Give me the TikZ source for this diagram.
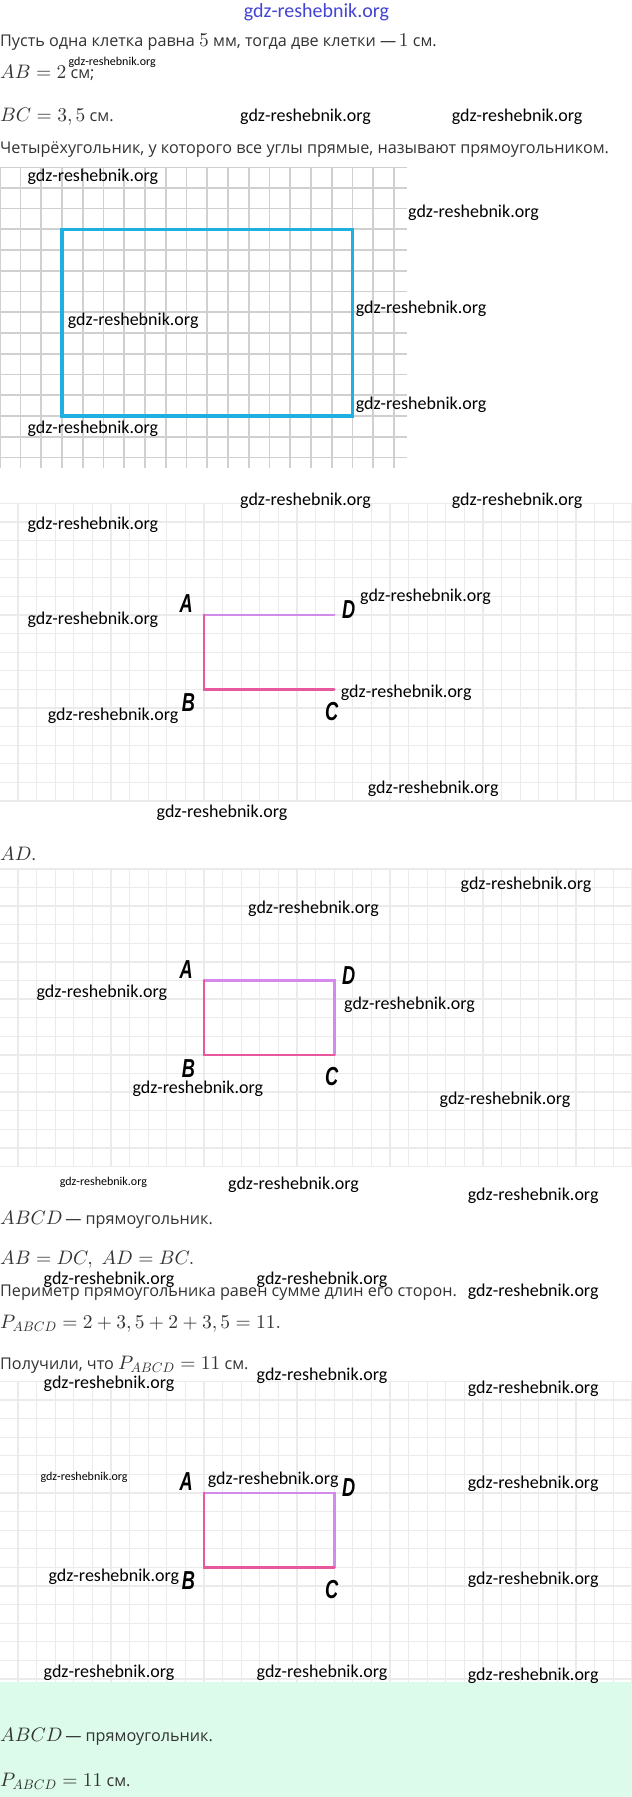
\documentclass[tikz,border=0pt]{standalone}
\usepackage{fontspec}
\usepackage{tikz}
\usetikzlibrary{positioning}
\DeclareFontShape{OML}{cmm}{m}{it}{<->cmmi10}{}
\DeclareFontShape{OT1}{cmr}{m}{n}{<->cmr10}{}
\DeclareFontShape{OMS}{cmsy}{m}{n}{<->cmsy10}{}
\newfontfamily\rufont[Scale=0.83]{Open Sans}
\newfontfamily\wmfont{Carlito}
\newfontfamily\ptfont[FakeStretch=0.7]{Liberation Sans}
\definecolor{txtgray}{HTML}{333333}
\definecolor{rectblue}{HTML}{1EB0E0}
\definecolor{sidepink}{HTML}{E8589E}
\definecolor{sideviolet}{HTML}{D48AEA}
\definecolor{gridgray}{HTML}{D0D0D0}
\definecolor{gridlight}{HTML}{EBEBEB}
\definecolor{mint}{HTML}{DCFBEA}
\definecolor{wmblue}{HTML}{4444D4}

\begin{document}
\begin{tikzpicture}[x=1pt, y=-1pt]
% Styles:
\tikzset{%
  line/.style     = {anchor=west, inner sep=0pt, text=txtgray, font=\fontsize{19.5}{22}\selectfont\rufont},
  wm/.style       = {anchor=west, inner sep=0pt, font=\fontsize{18}{20}\selectfont\wmfont},
  wmsmall/.style  = {anchor=west, inner sep=0pt, font=\fontsize{12}{14}\selectfont\wmfont},
  pt/.style       = {inner sep=0pt, font=\fontsize{26}{26}\selectfont\ptfont\bfseries\itshape},
  gridbig/.style  = {gridgray, line width=1.8pt},
  gridsmall/.style= {gridlight, line width=1.3pt},
  sideab/.style   = {sidepink, line width=2.6pt, line cap=round},
  sidead/.style   = {sideviolet, line width=2.6pt, line cap=round}
}
\fill[white] (0,0) rectangle (632,1797);
\useasboundingbox (0,0) rectangle (632,1797);
\fill[mint] (0,1682) rectangle (632,1797);

% Grid 1 with the blue rectangle
\begin{scope}
  \clip (0,167) rectangle (407,468);
  \foreach \k in {0,...,19} \draw[gridbig] ({-0.25+20.75*\k},167) -- ++(0,301);
  \foreach \k in {0,...,14} \draw[gridbig] (0,{167+20.75*\k}) -- ++(407,0);
\end{scope}
\coordinate (P) at (62,229.3);
\coordinate (Q) at (352.5,416);
\draw[rectblue, line width=3.2pt] (P) rectangle (Q);

% Grids 2, 3, 4
\foreach \top/\bot in {503.4/801, 868.9/1166.5, 1381.4/1682}{
  \foreach \k in {0,...,34} \draw[gridsmall] ({-0.6+18.6*\k},\top) -- ({-0.6+18.6*\k},\bot);
  \foreach \k in {0,...,16} \draw[gridsmall] (0,{\top+18.6*\k}) -- (632,{\top+18.6*\k});
}

% Grid 2: A, B, C, D
\coordinate (A2) at (204,615);
\coordinate (B2) at (204,689.4);
\coordinate (C2) at (334.2,689.4);
\coordinate (D2) at (334.2,615);
\draw[sidead] (A2) -- (D2);
\draw[sideab] (A2) -- (B2) -- (C2);
\node[pt, shift={(-17.7,-11)}] (lA2) at (A2) {A};
\node[pt, shift={(14.6,-5.2)}] (lD2) at (D2) {D};
\node[pt, shift={(-15.5,13.5)}] (lB2) at (B2) {B};
\node[pt, shift={(-2.5,22)}] (lC2) at (C2) {C};

% Grid 3 and grid 4: rectangles ABCD
\foreach \g/\ya in {3/980.5, 4/1493}{
  \coordinate (A\g) at (204,\ya);
  \coordinate (B\g) at (204,\ya+74.4);
  \coordinate (C\g) at (334.2,\ya+74.4);
  \coordinate (D\g) at (334.2,\ya);
  \draw[sidead] (A\g) -- (D\g) -- (C\g);
  \draw[sideab] (A\g) -- (B\g) -- (C\g);
  \node[pt, shift={(-17.7,-11)}] (lA\g) at (A\g) {A};
  \node[pt, shift={(14.6,-5.2)}] (lD\g) at (D\g) {D};
  \node[pt, shift={(-15.5,13.5)}] (lB\g) at (B\g) {B};
  \node[pt, shift={(-2.5,22)}] (lC\g) at (C\g) {C};
}

% Text lines
\node[line] (t1) at (0,41.7) {Пусть одна клетка равна $5$ мм, тогда две клетки —\,$1$ см.};
\node[line] (t2) at (0,72.7) {$AB = 2$ см;};
\node[line] (t3) at (0,117) {$BC = 3,5$ см.};
\node[line] (t4) at (0,150) {Четырёхугольник, у которого все углы прямые, называют прямоугольником.};
\node[line] (t5) at (0,854) {$AD$.};
\node[line] (t6) at (0,1219.3) {$ABCD$\,— прямоугольник.};
\node[line] (t7) at (0,1260) {$AB = DC,\; AD = BC.$};
\node[line] (t8) at (0,1292.7) {Периметр прямоугольника равен сумме длин его сторон.};
\node[line] (t9) at (0,1324) {$P_{ABCD} = 2+3,5+2+3,5 = 11.$};
\node[line] (t10) at (0,1365) {Получили, что $P_{ABCD} = 11$ см.};
\node[line] (t11) at (0,1736.7) {$ABCD$\,— прямоугольник.};
\node[line] (t12) at (0,1781.7) {$P_{ABCD} = 11$ см.};

% Watermarks
\node[font=\fontsize{20}{22}\selectfont\wmfont, text=wmblue] (wm0) at (316.5,12.7) {gdz-reshebnik.org};
\foreach \x/\y [count=\i] in {240/117, 451.6/117,
    27.4/176.7, 408/212.7, 355.6/308.3, 67.7/320.7, 355.6/404.3, 27.4/428.3,
    240/500.7, 451.6/500.7, 27.4/525, 27.4/620, 360/596.7, 340.7/692.3, 47.6/715.7, 367.7/788.3, 156.5/812.3,
    460.5/884.3, 248/909, 36.3/992.7, 344/1004.3, 132.3/1088.3, 439.5/1100, 228/1184.3, 467.7/1196,
    43.5/1280, 256.5/1280, 467.7/1291.7, 256.5/1376, 43.5/1384, 467.7/1388.3,
    207.7/1480, 467.7/1483.3, 48.4/1576.7, 467.7/1580, 43.5/1672.7, 256.5/1672.7, 467.7/1676}
  \node[wm] (wm\i) at (\x,\y) {gdz-reshebnik.org};
\foreach \x/\y [count=\i] in {68.5/62.7, 59.7/1182.3, 40.3/1477.3}
  \node[wmsmall] (ws\i) at (\x,\y) {gdz-reshebnik.org};
\end{tikzpicture}
\end{document}
